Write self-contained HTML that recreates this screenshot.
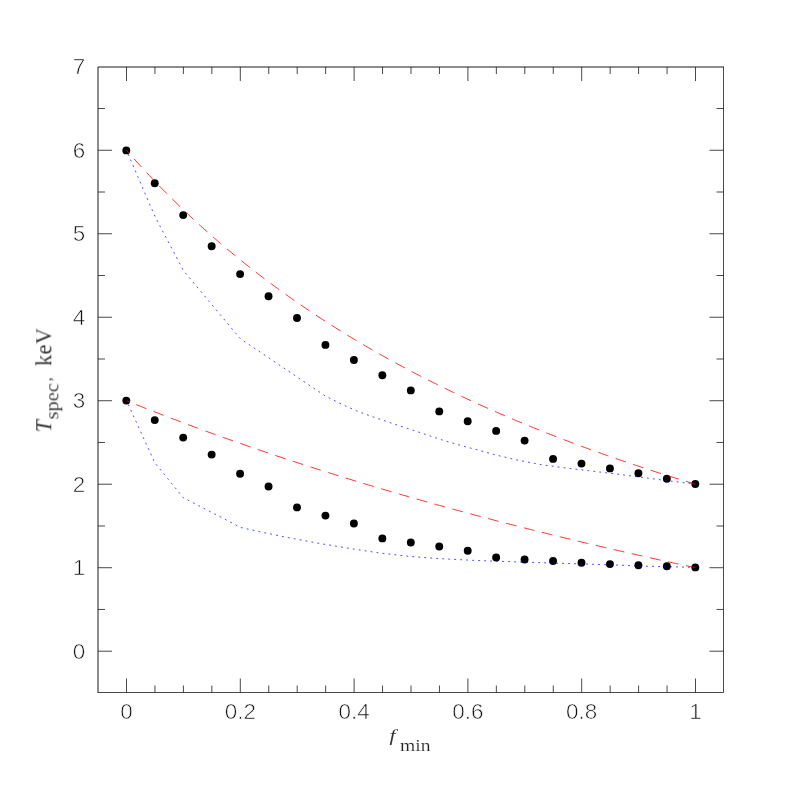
<!DOCTYPE html><html><head><meta charset="utf-8"><style>html,body{margin:0;padding:0;background:#fff}svg{display:block}</style></head><body><svg width="789" height="789" viewBox="0 0 789 789">
<rect width="789" height="789" fill="#fff"/>
<path d="M98.0,692.5 V67.0 H723.5" fill="none" stroke="#1a1a1a" stroke-width="1" stroke-linecap="square"/>
<path d="M723.5,67.0 V692.5 H98.0 M126.50,692.5 v-14 M126.50,67.0 v14 M154.95,692.5 v-7 M154.95,67.0 v7 M183.40,692.5 v-7 M183.40,67.0 v7 M211.85,692.5 v-7 M211.85,67.0 v7 M240.30,692.5 v-14 M240.30,67.0 v14 M268.75,692.5 v-7 M268.75,67.0 v7 M297.20,692.5 v-7 M297.20,67.0 v7 M325.65,692.5 v-7 M325.65,67.0 v7 M354.10,692.5 v-14 M354.10,67.0 v14 M382.55,692.5 v-7 M382.55,67.0 v7 M411.00,692.5 v-7 M411.00,67.0 v7 M439.45,692.5 v-7 M439.45,67.0 v7 M467.90,692.5 v-14 M467.90,67.0 v14 M496.35,692.5 v-7 M496.35,67.0 v7 M524.80,692.5 v-7 M524.80,67.0 v7 M553.25,692.5 v-7 M553.25,67.0 v7 M581.70,692.5 v-14 M581.70,67.0 v14 M610.15,692.5 v-7 M610.15,67.0 v7 M638.60,692.5 v-7 M638.60,67.0 v7 M667.05,692.5 v-7 M667.05,67.0 v7 M695.50,692.5 v-14 M695.50,67.0 v14 M98.0,651.20 h14 M723.5,651.20 h-14 M98.0,609.46 h7 M723.5,609.46 h-7 M98.0,567.71 h14 M723.5,567.71 h-14 M98.0,525.97 h7 M723.5,525.97 h-7 M98.0,484.22 h14 M723.5,484.22 h-14 M98.0,442.48 h7 M723.5,442.48 h-7 M98.0,400.73 h14 M723.5,400.73 h-14 M98.0,358.99 h7 M723.5,358.99 h-7 M98.0,317.24 h14 M723.5,317.24 h-14 M98.0,275.50 h7 M723.5,275.50 h-7 M98.0,233.75 h14 M723.5,233.75 h-14 M98.0,192.01 h7 M723.5,192.01 h-7 M98.0,150.26 h14 M723.5,150.26 h-14 M98.0,108.52 h7 M723.5,108.52 h-7" fill="none" stroke="#1a1a1a" stroke-width="0.8"/>
<g fill="#000">
<circle cx="126.30" cy="150.40" r="3.95"/><circle cx="126.30" cy="400.60" r="3.95"/>
<circle cx="154.75" cy="183.30" r="3.95"/><circle cx="154.75" cy="420.10" r="3.95"/>
<circle cx="183.20" cy="215.10" r="3.95"/><circle cx="183.20" cy="437.60" r="3.95"/>
<circle cx="211.65" cy="246.30" r="3.95"/><circle cx="211.65" cy="454.60" r="3.95"/>
<circle cx="240.10" cy="274.10" r="3.95"/><circle cx="240.10" cy="473.80" r="3.95"/>
<circle cx="268.55" cy="296.30" r="3.95"/><circle cx="268.55" cy="486.50" r="3.95"/>
<circle cx="297.00" cy="318.00" r="3.95"/><circle cx="297.00" cy="507.40" r="3.95"/>
<circle cx="325.45" cy="344.90" r="3.95"/><circle cx="325.45" cy="515.60" r="3.95"/>
<circle cx="353.90" cy="360.00" r="3.95"/><circle cx="353.90" cy="523.50" r="3.95"/>
<circle cx="382.35" cy="375.20" r="3.95"/><circle cx="382.35" cy="538.40" r="3.95"/>
<circle cx="410.80" cy="390.40" r="3.95"/><circle cx="410.80" cy="542.50" r="3.95"/>
<circle cx="439.25" cy="411.40" r="3.95"/><circle cx="439.25" cy="546.50" r="3.95"/>
<circle cx="467.70" cy="421.30" r="3.95"/><circle cx="467.70" cy="550.70" r="3.95"/>
<circle cx="496.15" cy="430.90" r="3.95"/><circle cx="496.15" cy="557.50" r="3.95"/>
<circle cx="524.60" cy="440.60" r="3.95"/><circle cx="524.60" cy="559.50" r="3.95"/>
<circle cx="553.05" cy="458.90" r="3.95"/><circle cx="553.05" cy="561.00" r="3.95"/>
<circle cx="581.50" cy="463.60" r="3.95"/><circle cx="581.50" cy="562.70" r="3.95"/>
<circle cx="609.95" cy="468.40" r="3.95"/><circle cx="609.95" cy="564.10" r="3.95"/>
<circle cx="638.40" cy="473.20" r="3.95"/><circle cx="638.40" cy="565.30" r="3.95"/>
<circle cx="666.85" cy="478.70" r="3.95"/><circle cx="666.85" cy="566.30" r="3.95"/>
<circle cx="695.30" cy="484.00" r="3.95"/><circle cx="695.30" cy="567.40" r="3.95"/>
</g>
<path d="M126.50,150.26 L129.34,153.51 L132.19,156.73 L135.03,159.91 L137.88,163.07 L140.72,166.20 L143.57,169.30 L146.41,172.37 L149.26,175.41 L152.10,178.42 L154.95,181.41 L157.80,184.37 L160.64,187.30 L163.49,190.21 L166.33,193.09 L169.18,195.94 L172.02,198.77 L174.87,201.58 L177.71,204.36 L180.56,207.11 L183.40,209.85 L186.25,212.55 L189.09,215.24 L191.94,217.90 L194.78,220.54 L197.62,223.15 L200.47,225.75 L203.31,228.32 L206.16,230.87 L209.00,233.40 L211.85,235.91 L214.69,238.39 L217.54,240.86 L220.38,243.31 L223.23,245.73 L226.07,248.14 L228.92,250.53 L231.76,252.89 L234.61,255.24 L237.45,257.57 L240.30,259.88 L243.14,262.17 L245.99,264.45 L248.83,266.70 L251.68,268.94 L254.53,271.16 L257.37,273.36 L260.22,275.55 L263.06,277.72 L265.90,279.87 L268.75,282.01 L271.60,284.12 L274.44,286.23 L277.28,288.31 L280.13,290.39 L282.98,292.44 L285.82,294.48 L288.66,296.51 L291.51,298.51 L294.36,300.51 L297.20,302.49 L300.04,304.45 L302.89,306.40 L305.74,308.34 L308.58,310.26 L311.43,312.17 L314.27,314.07 L317.12,315.95 L319.96,317.81 L322.80,319.67 L325.65,321.51 L328.50,323.33 L331.34,325.15 L334.19,326.95 L337.03,328.74 L339.88,330.51 L342.72,332.28 L345.56,334.03 L348.41,335.77 L351.25,337.50 L354.10,339.21 L356.95,340.91 L359.79,342.61 L362.63,344.29 L365.48,345.95 L368.32,347.61 L371.17,349.26 L374.01,350.89 L376.86,352.52 L379.71,354.13 L382.55,355.73 L385.39,357.32 L388.24,358.91 L391.09,360.48 L393.93,362.04 L396.77,363.59 L399.62,365.13 L402.46,366.66 L405.31,368.18 L408.15,369.69 L411.00,371.19 L413.85,372.68 L416.69,374.16 L419.54,375.63 L422.38,377.09 L425.23,378.55 L428.07,379.99 L430.92,381.42 L433.76,382.85 L436.61,384.27 L439.45,385.67 L442.30,387.07 L445.14,388.46 L447.98,389.85 L450.83,391.22 L453.67,392.58 L456.52,393.94 L459.36,395.29 L462.21,396.63 L465.06,397.96 L467.90,399.28 L470.75,400.60 L473.59,401.90 L476.44,403.20 L479.28,404.50 L482.12,405.78 L484.97,407.06 L487.81,408.33 L490.66,409.59 L493.50,410.84 L496.35,412.09 L499.19,413.33 L502.04,414.56 L504.89,415.78 L507.73,417.00 L510.58,418.21 L513.42,419.42 L516.27,420.61 L519.11,421.80 L521.95,422.99 L524.80,424.16 L527.64,425.33 L530.49,426.49 L533.34,427.65 L536.18,428.80 L539.02,429.94 L541.87,431.08 L544.71,432.21 L547.56,433.33 L550.40,434.45 L553.25,435.56 L556.10,436.67 L558.94,437.77 L561.79,438.86 L564.63,439.95 L567.48,441.03 L570.32,442.11 L573.16,443.17 L576.01,444.24 L578.86,445.30 L581.70,446.35 L584.55,447.39 L587.39,448.44 L590.23,449.47 L593.08,450.50 L595.92,451.52 L598.77,452.54 L601.62,453.56 L604.46,454.56 L607.31,455.57 L610.15,456.56 L613.00,457.56 L615.84,458.54 L618.68,459.53 L621.53,460.50 L624.38,461.47 L627.22,462.44 L630.07,463.40 L632.91,464.36 L635.75,465.31 L638.60,466.26 L641.45,467.20 L644.29,468.14 L647.13,469.07 L649.98,470.00 L652.83,470.92 L655.67,471.84 L658.51,472.75 L661.36,473.66 L664.20,474.56 L667.05,475.46 L669.89,476.36 L672.74,477.25 L675.59,478.14 L678.43,479.02 L681.27,479.90 L684.12,480.77 L686.97,481.64 L689.81,482.50 L692.65,483.36 L695.50,484.22" fill="none" stroke="#ff0000" stroke-width="0.8" stroke-dasharray="10.9 7.6" stroke-dashoffset="7.0"/>
<path d="M126.50,400.73 L129.34,401.88 L132.19,403.02 L135.03,404.16 L137.88,405.29 L140.72,406.42 L143.57,407.54 L146.41,408.66 L149.26,409.78 L152.10,410.89 L154.95,412.00 L157.80,413.10 L160.64,414.20 L163.49,415.30 L166.33,416.39 L169.18,417.48 L172.02,418.57 L174.87,419.65 L177.71,420.72 L180.56,421.79 L183.40,422.86 L186.25,423.93 L189.09,424.99 L191.94,426.05 L194.78,427.10 L197.62,428.15 L200.47,429.19 L203.31,430.24 L206.16,431.27 L209.00,432.31 L211.85,433.34 L214.69,434.37 L217.54,435.39 L220.38,436.41 L223.23,437.43 L226.07,438.44 L228.92,439.45 L231.76,440.45 L234.61,441.46 L237.45,442.46 L240.30,443.45 L243.14,444.44 L245.99,445.43 L248.83,446.42 L251.68,447.40 L254.53,448.37 L257.37,449.35 L260.22,450.32 L263.06,451.29 L265.90,452.25 L268.75,453.21 L271.60,454.17 L274.44,455.13 L277.28,456.08 L280.13,457.03 L282.98,457.97 L285.82,458.91 L288.66,459.85 L291.51,460.79 L294.36,461.72 L297.20,462.65 L300.04,463.58 L302.89,464.50 L305.74,465.42 L308.58,466.34 L311.43,467.25 L314.27,468.16 L317.12,469.07 L319.96,469.97 L322.80,470.87 L325.65,471.77 L328.50,472.67 L331.34,473.56 L334.19,474.45 L337.03,475.34 L339.88,476.22 L342.72,477.10 L345.56,477.98 L348.41,478.85 L351.25,479.73 L354.10,480.60 L356.95,481.46 L359.79,482.33 L362.63,483.19 L365.48,484.05 L368.32,484.90 L371.17,485.75 L374.01,486.60 L376.86,487.45 L379.71,488.30 L382.55,489.14 L385.39,489.98 L388.24,490.81 L391.09,491.65 L393.93,492.48 L396.77,493.31 L399.62,494.13 L402.46,494.95 L405.31,495.78 L408.15,496.59 L411.00,497.41 L413.85,498.22 L416.69,499.03 L419.54,499.84 L422.38,500.64 L425.23,501.45 L428.07,502.25 L430.92,503.04 L433.76,503.84 L436.61,504.63 L439.45,505.42 L442.30,506.21 L445.14,507.00 L447.98,507.78 L450.83,508.56 L453.67,509.34 L456.52,510.11 L459.36,510.89 L462.21,511.66 L465.06,512.43 L467.90,513.19 L470.75,513.95 L473.59,514.72 L476.44,515.48 L479.28,516.23 L482.12,516.99 L484.97,517.74 L487.81,518.49 L490.66,519.24 L493.50,519.98 L496.35,520.73 L499.19,521.47 L502.04,522.21 L504.89,522.94 L507.73,523.68 L510.58,524.41 L513.42,525.14 L516.27,525.87 L519.11,526.59 L521.95,527.31 L524.80,528.04 L527.64,528.76 L530.49,529.47 L533.34,530.19 L536.18,530.90 L539.02,531.61 L541.87,532.32 L544.71,533.03 L547.56,533.73 L550.40,534.43 L553.25,535.13 L556.10,535.83 L558.94,536.53 L561.79,537.22 L564.63,537.91 L567.48,538.60 L570.32,539.29 L573.16,539.98 L576.01,540.66 L578.86,541.34 L581.70,542.02 L584.55,542.70 L587.39,543.38 L590.23,544.05 L593.08,544.73 L595.92,545.40 L598.77,546.06 L601.62,546.73 L604.46,547.40 L607.31,548.06 L610.15,548.72 L613.00,549.38 L615.84,550.04 L618.68,550.69 L621.53,551.34 L624.38,552.00 L627.22,552.65 L630.07,553.29 L632.91,553.94 L635.75,554.58 L638.60,555.23 L641.45,555.87 L644.29,556.51 L647.13,557.14 L649.98,557.78 L652.83,558.41 L655.67,559.04 L658.51,559.68 L661.36,560.30 L664.20,560.93 L667.05,561.55 L669.89,562.18 L672.74,562.80 L675.59,563.42 L678.43,564.04 L681.27,564.65 L684.12,565.27 L686.97,565.88 L689.81,566.49 L692.65,567.10 L695.50,567.71" fill="none" stroke="#ff0000" stroke-width="0.8" stroke-dasharray="10.9 7.6" stroke-dashoffset="8.0"/>
<path d="M126.50,150.30 L154.95,216.40 L183.40,270.60 L240.30,338.70 L325.65,396.20 L342.10,404.40 L358.60,411.80 L375.10,417.60 L398.00,425.30 L414.80,430.80 L431.50,436.40 L442.90,440.20 L454.30,443.60 L466.50,447.00 L477.90,450.00 L494.30,454.60 L517.10,460.00 L541.50,464.70 L564.30,467.80 L588.60,470.70 L618.00,474.20 L637.80,476.80 L653.00,478.80 L666.70,480.60 L678.90,482.10 L695.50,484.00" fill="none" stroke="#0000ff" stroke-width="0.7" stroke-dasharray="1.9 4.1" stroke-dashoffset="1.85"/>
<path d="M126.50,400.70 L154.95,463.00 L183.40,497.80 L202.80,507.80 L224.10,518.80 L240.30,527.40 L262.90,532.40 L286.50,537.30 L297.90,539.40 L320.40,543.60 L350.80,548.60 L379.70,553.00 L409.40,556.40 L438.80,558.60 L474.50,560.40 L516.30,561.90 L560.00,563.30 L604.40,564.60 L646.90,566.20 L695.50,567.40" fill="none" stroke="#0000ff" stroke-width="0.7" stroke-dasharray="1.9 4.1" stroke-dashoffset="1.85"/>
<g font-family="Liberation Sans, sans-serif" font-size="21.2" fill="#111" stroke="#fff" stroke-width="0.6" paint-order="fill stroke" opacity="0.99">
<text transform="translate(126.50,719.3) scale(1.06,1)" text-anchor="middle">0</text>
<text transform="translate(240.30,719.3) scale(1.06,1)" text-anchor="middle">0.2</text>
<text transform="translate(354.10,719.3) scale(1.06,1)" text-anchor="middle">0.4</text>
<text transform="translate(467.90,719.3) scale(1.06,1)" text-anchor="middle">0.6</text>
<text transform="translate(581.70,719.3) scale(1.06,1)" text-anchor="middle">0.8</text>
<text transform="translate(695.50,719.3) scale(1.06,1)" text-anchor="middle">1</text>
<text transform="translate(85.3,658.55) scale(1.06,1)" text-anchor="end">0</text>
<text transform="translate(85.3,575.06) scale(1.06,1)" text-anchor="end">1</text>
<text transform="translate(85.3,491.57) scale(1.06,1)" text-anchor="end">2</text>
<text transform="translate(85.3,408.08) scale(1.06,1)" text-anchor="end">3</text>
<text transform="translate(85.3,324.59) scale(1.06,1)" text-anchor="end">4</text>
<text transform="translate(85.3,241.10) scale(1.06,1)" text-anchor="end">5</text>
<text transform="translate(85.3,157.61) scale(1.06,1)" text-anchor="end">6</text>
<text transform="translate(85.3,74.12) scale(1.06,1)" text-anchor="end">7</text>
</g>
<g font-family="Liberation Serif, serif" fill="#222" stroke="#fff" stroke-width="0.15" paint-order="fill stroke" opacity="0.99">
<text transform="translate(389.5,741.4) scale(1.28,1)" font-size="17" font-style="italic" stroke="none" fill="#333">f</text>
<text transform="translate(400,751.4) scale(1.12,1)" font-size="17.5">min</text>
<g transform="translate(51.3,432.5) rotate(-90)">
<text x="0" y="0" font-size="22.5" font-style="italic">T</text>
<text transform="translate(13,7.1) scale(1.135,1)" font-size="18">spec</text>
<text x="51.2" y="0" font-size="16">,</text>
<text x="66.5" y="0" font-size="22.5" letter-spacing="0.3">keV</text>
</g></g>
</svg></body></html>
